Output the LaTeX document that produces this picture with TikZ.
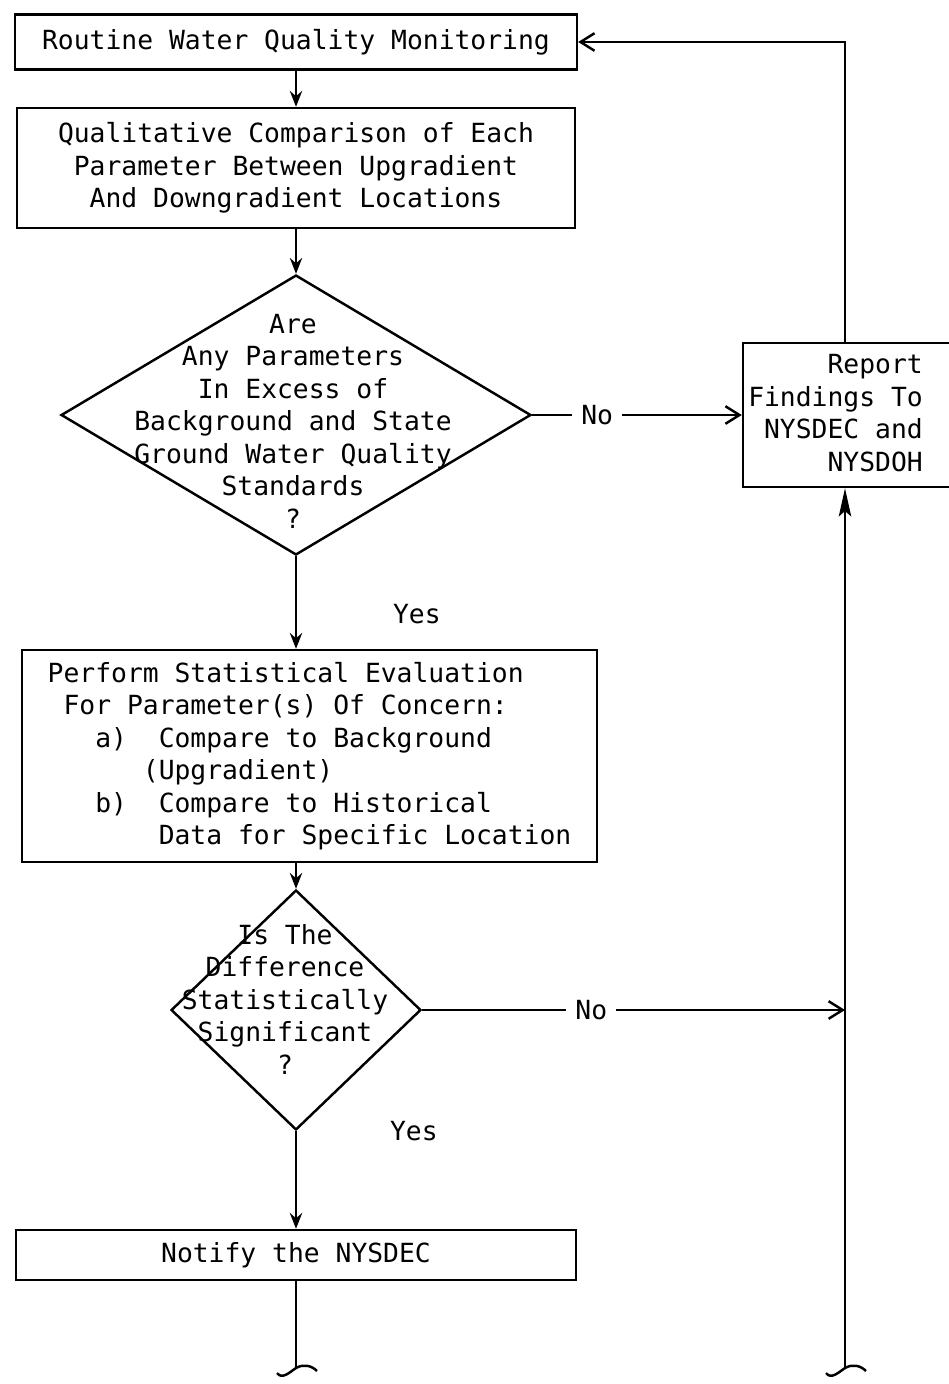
\documentclass[tikz,border=0pt]{standalone}
\usepackage{fontspec}
\setmonofont{DejaVu Sans Mono}
\usetikzlibrary{arrows.meta,shapes.geometric,calc}

\begin{document}
\begin{tikzpicture}[x=0.02cm, y=-0.02cm,
    every node/.style={font=\ttfamily\fontsize{15pt}{18.5pt}\selectfont},
    box/.style={draw, rectangle, line width=1.4pt, inner sep=0pt},
    decision/.style={draw, diamond, line width=1.4pt, inner sep=0pt},
    flow/.style={line width=1.4pt, -{Stealth[length=9pt,width=7pt,inset=3pt]}},
    barb/.style={line width=1.4pt, -{Straight Barb[length=8pt,width=10pt]}},
    tag/.style={fill=white, inner xsep=0.18cm}
  ]
    \useasboundingbox (0,0) rectangle (949,1384);
    \def\squiggle#1{
      \draw[line width=1.4pt] ($(#1)+(-19,5)$) .. controls ($(#1)+(-14,12)$) and ($(#1)+(-6,4)$) .. (#1)
        .. controls ($(#1)+(7,-4)$) and ($(#1)+(15,-3)$) .. ($(#1)+(21,3)$);
    }
    % main column
    \node[box, minimum width=11.24cm, minimum height=1.1cm] (monitor) at (296,42)
      {Routine Water Quality Monitoring};
    \node[box, minimum width=11.16cm, minimum height=2.4cm, align=center] (compare) at (296,168)
      {Qualitative Comparison of Each\\Parameter Between Upgradient\\And Downgradient Locations};
    \node[decision, minimum width=9.4cm, minimum height=5.6cm] (excess) at (296,415) {};
    \node[align=center] (excesstext) at (293,421)
      {Are\\Any Parameters\\In Excess of\\Background and State\\Ground Water Quality\\Standards\\?};
    \node[box, minimum width=11.5cm, minimum height=4.24cm, align=left] (stats) at (309.5,756)
      {Perform Statistical Evaluation\\
       \phantom{x}For Parameter(s) Of Concern:\\
       \phantom{xxx}a)\phantom{xx}Compare to Background\\
       \phantom{xxxxxx}(Upgradient)\\
       \phantom{xxx}b)\phantom{xx}Compare to Historical\\
       \phantom{xxxxxxx}Data for Specific Location};
    \node[decision, minimum width=5cm, minimum height=4.8cm] (signif) at (296,1010) {};
    \node[align=center] (signiftext) at (285,999)
      {Is The\\Difference\\Statistically\\Significant\\?};
    \node[box, minimum width=11.2cm, minimum height=1cm] (notify) at (296,1255) {Notify the NYSDEC};
    % right column
    \node[box, minimum width=4.44cm, minimum height=2.88cm] (report) at (854,415) {};
    \node[align=right, anchor=east] (reporttext) at (929,413)
      {Report\\Findings To\\NYSDEC and\\NYSDOH};
    \coordinate (lend) at (296,1368);
    \coordinate (rend) at (845,1368);

    % connectors
    \draw[flow] (monitor) -- (compare);
    \draw[flow] (compare) -- (excess.north);
    \draw[flow] (excess.south) -- node[pos=.62, right=1.8cm] {Yes} (excess.south |- stats.north);
    \draw[flow] (stats.south -| signif) -- (signif.north);
    \draw[flow] (signif.south) -- node[pos=0, right=1.74cm] {Yes} (notify.north);
    \draw[line width=1.4pt] (notify.south) -- (lend);
    \draw[barb] (excess.east) -- node[tag, pos=.31] {No} (report.west);
    \draw[barb] (signif.east) -- node[tag, pos=.4] {No} (signif.east -| rend);
    \draw[line width=1.4pt, -{Stealth[length=16pt,width=7pt,inset=3pt]}] (rend) -- (report.south -| rend);
    \draw[barb] (report.north -| rend) -- (rend |- monitor.east) -- (monitor.east);
    \squiggle{lend}
    \squiggle{rend}
\end{tikzpicture}
\end{document}
